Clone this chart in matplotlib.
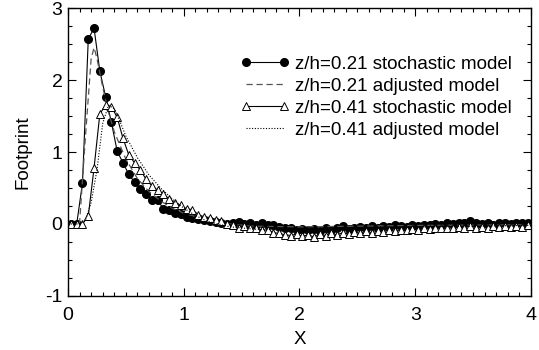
import numpy as np
import matplotlib
matplotlib.use("Agg")
import matplotlib.pyplot as plt
from matplotlib.ticker import MultipleLocator

plt.rcParams['font.family'] = ['Liberation Sans', 'DejaVu Sans']
plt.rcParams['axes.unicode_minus'] = False

# stochastic model sample positions
x_stoch = [0.025 + 0.05 * k for k in range(80)]

# z/h=0.21 stochastic model (filled circles)
y_c021 = [0.0, 0.0, 0.57, 2.57, 2.72, 2.12, 1.77, 1.41, 1.01, 0.85,
          0.69, 0.58, 0.49, 0.41, 0.33, 0.33, 0.21, 0.20, 0.155, 0.14,
          0.10, 0.08, 0.07, 0.06, 0.04, 0.03, 0.02, 0.0,
          0.02, 0.03, 0.0, 0.01, -0.01, 0.01, -0.02, -0.01, -0.04, -0.06,
          -0.05, -0.08, -0.07, -0.09, -0.07, -0.10, -0.06, -0.08, -0.05, -0.03,
          -0.07, -0.06, -0.04, -0.05, -0.03, -0.05, -0.03, -0.04, -0.02, -0.03,
          -0.04, -0.02, -0.03, -0.01, -0.02, 0.0, -0.01, 0.01, 0.0, 0.01,
          0.02, 0.04, 0.02, 0.0, 0.02, -0.01, 0.02, 0.01, 0.0, 0.02,
          0.01, 0.02]

# z/h=0.41 stochastic model (open triangles)
y_t041 = [0.0, 0.0, 0.0, 0.11, 0.78, 1.53, 1.65, 1.63, 1.48, 1.19,
          0.96, 0.85, 0.75, 0.62, 0.53, 0.47, 0.41, 0.35, 0.29, 0.26,
          0.21, 0.20, 0.13, 0.10, 0.09, 0.06, 0.04, 0.0,
          -0.02, -0.05, -0.03, -0.06, -0.05, -0.09, -0.08, -0.12, -0.13, -0.15,
          -0.16, -0.14, -0.17, -0.15, -0.18, -0.14, -0.16, -0.13, -0.15, -0.12,
          -0.14, -0.11, -0.13, -0.10, -0.12, -0.10, -0.11, -0.08, -0.10, -0.08,
          -0.09, -0.07, -0.08, -0.06, -0.07, -0.05, -0.06, -0.05, -0.06, -0.04,
          -0.05, -0.03, -0.05, -0.04, -0.05, -0.03, -0.04, -0.03, -0.04, -0.03,
          -0.04, -0.02]

# z/h=0.21 adjusted model (dashed)
x_a021 = [0.0, 0.05, 0.1, 0.15, 0.2, 0.225, 0.25, 0.3, 0.35, 0.4, 0.5, 0.6,
          0.7, 0.8, 0.9, 1.0, 1.2, 1.4, 1.6, 2.0, 2.5, 3.0, 4.0]
y_a021 = [0.0, 0.0, 0.02, 1.2, 2.3, 2.45, 2.3, 1.9, 1.55, 1.28, 0.9, 0.63,
          0.45, 0.32, 0.22, 0.15, 0.06, 0.0, -0.03, -0.04, -0.03, -0.02, -0.01]

# z/h=0.41 adjusted model (dotted)
x_a041 = [0.0, 0.1, 0.15, 0.2, 0.25, 0.3, 0.35, 0.4, 0.45, 0.5, 0.6, 0.7,
          0.8, 0.9, 1.0, 1.1, 1.2, 1.4, 1.6, 1.8, 2.0, 2.5, 3.0, 4.0]
y_a041 = [0.0, 0.0, 0.05, 0.3, 0.75, 1.4, 1.65, 1.6, 1.42, 1.22, 0.92, 0.68,
          0.5, 0.35, 0.22, 0.12, 0.04, -0.04, -0.07, -0.08, -0.08, -0.06, -0.04, -0.02]

labels = ["z/h=0.21 stochastic model", "z/h=0.21 adjusted model",
          "z/h=0.41 stochastic model", "z/h=0.41 adjusted model"]

fig = plt.figure(figsize=(5.39, 3.5), dpi=100)
ax = fig.add_axes([0.1262, 0.1543, 0.8588, 0.8228])

ax.plot(x_stoch, y_c021, '-', color='black', lw=0.8, marker='o', ms=5.5,
        mfc='black', mec='black', label=labels[0])
ax.plot(x_a021, y_a021, '--', color='#555555', lw=0.9, dashes=(5, 3), label=labels[1])
ax.plot(x_stoch, y_t041, '-', color='black', lw=0.8, marker='^', ms=6,
        mfc='white', mec='black', mew=0.7, label=labels[2])
ax.plot(x_a041, y_a041, ':', color='black', lw=0.8, dashes=(1, 1.5), label=labels[3])

ax.set_xlim(0, 4)
ax.set_ylim(-1, 3)
ax.xaxis.set_major_locator(MultipleLocator(1))
ax.xaxis.set_minor_locator(MultipleLocator(0.1))
ax.yaxis.set_major_locator(MultipleLocator(1))
ax.yaxis.set_minor_locator(MultipleLocator(0.25))
ax.tick_params(which='both', direction='in', top=True, right=True, labelsize=14)
ax.tick_params(axis='x', which='major', pad=8)
ax.tick_params(axis='y', which='major', pad=4)
ax.tick_params(which='major', length=6, width=0.8)
ax.tick_params(which='minor', length=3, width=0.8)
for s in ax.spines.values():
    s.set_linewidth(1.0)

ax.set_xlabel("X", fontsize=13.5, labelpad=5)
ax.set_ylabel("Footprint", fontsize=13.5, labelpad=10)

leg = ax.legend(loc='upper right', bbox_to_anchor=(0.975, 0.86), frameon=False,
                fontsize=13.5, numpoints=2, handlelength=2.6, handletextpad=0.3,
                labelspacing=0.26, borderaxespad=0.0)

fig.savefig("out.png", dpi=100)
